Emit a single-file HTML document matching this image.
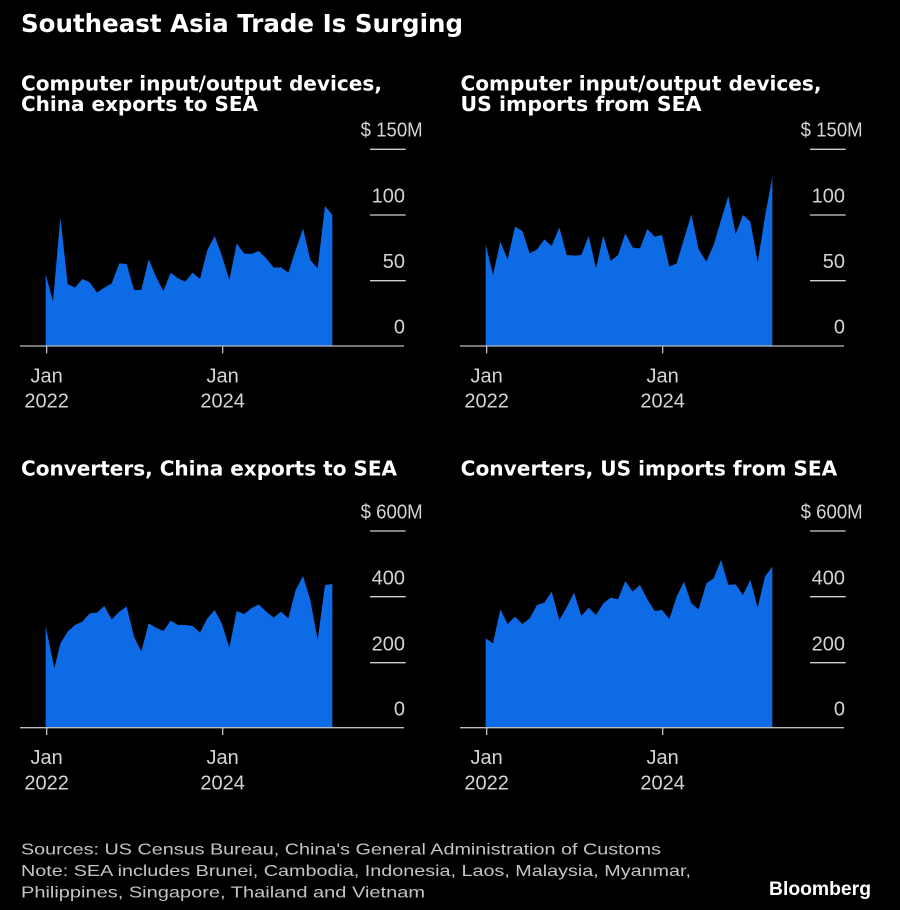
<!DOCTYPE html>
<html>
<head>
<meta charset="utf-8">
<style>
  html, body { margin:0; padding:0; background:#000; }
  body { width:900px; height:910px; overflow:hidden; }
  svg { display:block; }
  .t { font-family:"DejaVu Sans","Liberation Sans",sans-serif; font-weight:bold; fill:#fff; }
  .ax { font-family:"Liberation Sans",sans-serif; fill:#d4d4d4; font-size:60px; }
  .ft { font-family:"Liberation Sans",sans-serif; fill:#c4c4c4; font-size:16px; }
  .area { fill:#0d6be6; }
  .grid { stroke:#cfcfcf; stroke-width:4; }
  .base { stroke:#bdbdbd; stroke-width:4; }
</style>
</head>
<body>
<svg width="900" height="910" viewBox="0 0 900 910" xmlns="http://www.w3.org/2000/svg">
  <rect x="0" y="0" width="900" height="910" fill="#000"/>

  <!-- Titles -->
  <text class="t" x="21" y="32" font-size="25" textLength="442" lengthAdjust="spacingAndGlyphs">Southeast Asia Trade Is Surging</text>

  <text class="t" x="21" y="90.7" font-size="20" textLength="361" lengthAdjust="spacingAndGlyphs">Computer input/output devices,</text>
  <text class="t" x="21" y="111" font-size="20" textLength="237" lengthAdjust="spacingAndGlyphs">China exports to SEA</text>

  <text class="t" x="460.5" y="90.7" font-size="20" textLength="361" lengthAdjust="spacingAndGlyphs">Computer input/output devices,</text>
  <text class="t" x="460.5" y="111" font-size="20" textLength="241" lengthAdjust="spacingAndGlyphs">US imports from SEA</text>

  <text class="t" x="21" y="475.3" font-size="20" textLength="376" lengthAdjust="spacingAndGlyphs">Converters, China exports to SEA</text>
  <text class="t" x="460.7" y="475.3" font-size="20" textLength="376.6" lengthAdjust="spacingAndGlyphs">Converters, US imports from SEA</text>

  <!-- Chart 1 (top-left) -->
  <g transform="translate(0,120) scale(0.333333)">
    <path class="area" d="M137,678 L137,462 L159,545 L181,292 L203,492 L225,503 L247,477 L269,487 L291,518 L313,503 L335,490 L358,430 L380,432 L402,510 L424,510 L446,418 L468,470 L490,513 L512,458 L534,475 L556,485 L578,458 L600,477 L622,390 L644,348 L666,408 L688,480 L710,370 L732,400 L754,402 L776,393 L799,415 L821,443 L843,442 L865,458 L887,390 L909,325 L931,420 L953,445 L975,258 L997,285 L997,678 Z"/>
    <line class="grid" x1="1110" y1="88" x2="1217" y2="88"/>
    <line class="grid" x1="1110" y1="285" x2="1217" y2="285"/>
    <line class="grid" x1="1110" y1="482" x2="1217" y2="482"/>
    <line class="base" x1="60" y1="678" x2="1212" y2="678"/>
    <line class="base" x1="140" y1="678" x2="140" y2="700"/>
    <line class="base" x1="668" y1="678" x2="668" y2="700"/>
    <text class="ax" x="1268" y="50" text-anchor="end" textLength="186" lengthAdjust="spacingAndGlyphs">$ 150M</text>
    <text class="ax" x="1215" y="247" text-anchor="end">100</text>
    <text class="ax" x="1215" y="444" text-anchor="end">50</text>
    <text class="ax" x="1215" y="641" text-anchor="end">0</text>
    <text class="ax" x="140" y="787" text-anchor="middle">Jan</text>
    <text class="ax" x="140" y="862" text-anchor="middle">2022</text>
    <text class="ax" x="668" y="787" text-anchor="middle">Jan</text>
    <text class="ax" x="668" y="862" text-anchor="middle">2024</text>
  </g>

  <!-- Chart 2 (top-right) -->
  <g transform="translate(440,120) scale(0.333333)">
    <path class="area" d="M137,678 L137,373 L159,465 L181,365 L203,418 L225,320 L247,333 L269,400 L291,388 L313,358 L335,378 L358,322 L380,405 L402,407 L424,405 L446,348 L468,445 L490,347 L512,423 L534,405 L556,340 L578,383 L600,385 L622,327 L644,350 L666,345 L688,440 L710,430 L732,357 L754,283 L776,388 L799,425 L821,375 L843,300 L865,228 L887,342 L909,285 L931,305 L953,427 L975,290 L997,170 L997,678 Z"/>
    <line class="grid" x1="1110" y1="88" x2="1217" y2="88"/>
    <line class="grid" x1="1110" y1="285" x2="1217" y2="285"/>
    <line class="grid" x1="1110" y1="482" x2="1217" y2="482"/>
    <line class="base" x1="60" y1="678" x2="1212" y2="678"/>
    <line class="base" x1="140" y1="678" x2="140" y2="700"/>
    <line class="base" x1="668" y1="678" x2="668" y2="700"/>
    <text class="ax" x="1268" y="50" text-anchor="end" textLength="186" lengthAdjust="spacingAndGlyphs">$ 150M</text>
    <text class="ax" x="1215" y="247" text-anchor="end">100</text>
    <text class="ax" x="1215" y="444" text-anchor="end">50</text>
    <text class="ax" x="1215" y="641" text-anchor="end">0</text>
    <text class="ax" x="140" y="787" text-anchor="middle">Jan</text>
    <text class="ax" x="140" y="862" text-anchor="middle">2022</text>
    <text class="ax" x="668" y="787" text-anchor="middle">Jan</text>
    <text class="ax" x="668" y="862" text-anchor="middle">2024</text>
  </g>

  <!-- Chart 3 (bottom-left) -->
  <g transform="translate(0,500) scale(0.333333)">
    <path class="area" d="M137,683 L137,378 L163,505 L181,430 L203,395 L225,375 L247,365 L269,340 L291,338 L313,318 L335,358 L358,335 L380,320 L402,410 L424,455 L446,370 L468,383 L490,393 L512,362 L534,375 L556,375 L578,378 L600,398 L622,355 L644,330 L666,372 L688,443 L710,333 L732,342 L754,325 L776,313 L799,335 L821,353 L843,335 L865,355 L887,270 L909,228 L931,300 L953,420 L975,255 L997,252 L997,683 Z"/>
    <line class="grid" x1="1110" y1="93" x2="1217" y2="93"/>
    <line class="grid" x1="1110" y1="290" x2="1217" y2="290"/>
    <line class="grid" x1="1110" y1="488" x2="1217" y2="488"/>
    <line class="base" x1="60" y1="683" x2="1212" y2="683"/>
    <line class="base" x1="140" y1="683" x2="140" y2="705"/>
    <line class="base" x1="668" y1="683" x2="668" y2="705"/>
    <text class="ax" x="1268" y="56" text-anchor="end" textLength="186" lengthAdjust="spacingAndGlyphs">$ 600M</text>
    <text class="ax" x="1215" y="253" text-anchor="end">400</text>
    <text class="ax" x="1215" y="451" text-anchor="end">200</text>
    <text class="ax" x="1215" y="646" text-anchor="end">0</text>
    <text class="ax" x="140" y="792" text-anchor="middle">Jan</text>
    <text class="ax" x="140" y="868" text-anchor="middle">2022</text>
    <text class="ax" x="668" y="792" text-anchor="middle">Jan</text>
    <text class="ax" x="668" y="868" text-anchor="middle">2024</text>
  </g>

  <!-- Chart 4 (bottom-right) -->
  <g transform="translate(440,500) scale(0.333333)">
    <path class="area" d="M137,683 L137,415 L159,430 L181,328 L203,372 L225,350 L247,372 L269,355 L291,315 L313,308 L335,275 L358,360 L380,322 L402,278 L424,348 L446,323 L468,345 L490,310 L512,293 L534,298 L556,243 L578,275 L600,255 L622,298 L644,333 L666,330 L688,357 L710,290 L732,245 L754,310 L776,328 L799,250 L821,235 L843,180 L865,255 L887,253 L909,285 L931,240 L953,323 L975,230 L997,200 L997,683 Z"/>
    <line class="grid" x1="1110" y1="93" x2="1217" y2="93"/>
    <line class="grid" x1="1110" y1="290" x2="1217" y2="290"/>
    <line class="grid" x1="1110" y1="488" x2="1217" y2="488"/>
    <line class="base" x1="60" y1="683" x2="1212" y2="683"/>
    <line class="base" x1="140" y1="683" x2="140" y2="705"/>
    <line class="base" x1="668" y1="683" x2="668" y2="705"/>
    <text class="ax" x="1268" y="56" text-anchor="end" textLength="186" lengthAdjust="spacingAndGlyphs">$ 600M</text>
    <text class="ax" x="1215" y="253" text-anchor="end">400</text>
    <text class="ax" x="1215" y="451" text-anchor="end">200</text>
    <text class="ax" x="1215" y="646" text-anchor="end">0</text>
    <text class="ax" x="140" y="792" text-anchor="middle">Jan</text>
    <text class="ax" x="140" y="868" text-anchor="middle">2022</text>
    <text class="ax" x="668" y="792" text-anchor="middle">Jan</text>
    <text class="ax" x="668" y="868" text-anchor="middle">2024</text>
  </g>

  <!-- Footer -->
  <text class="ft" x="21" y="854.3" textLength="640" lengthAdjust="spacingAndGlyphs">Sources: US Census Bureau, China's General Administration of Customs</text>
  <text class="ft" x="21" y="876" textLength="670" lengthAdjust="spacingAndGlyphs">Note: SEA includes Brunei, Cambodia, Indonesia, Laos, Malaysia, Myanmar,</text>
  <text class="ft" x="21" y="897.3" textLength="404" lengthAdjust="spacingAndGlyphs">Philippines, Singapore, Thailand and Vietnam</text>
  <text x="769" y="895" font-family="Liberation Sans, sans-serif" font-weight="bold" font-size="19" fill="#fff" textLength="102" lengthAdjust="spacingAndGlyphs">Bloomberg</text>
</svg>
</body>
</html>
